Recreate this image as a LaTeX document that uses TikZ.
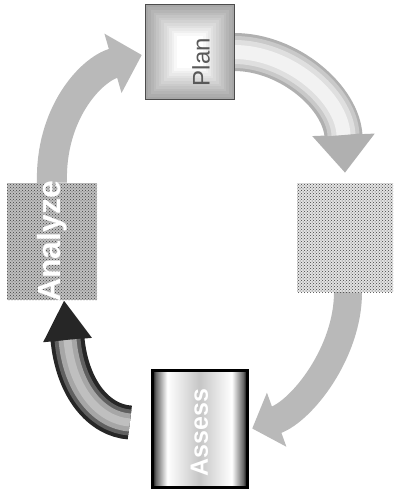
\documentclass[tikz,border=0pt]{standalone}
\usepackage{fontspec}
\usepackage{graphicx}
\setmainfont{Liberation Sans}
\usetikzlibrary{arrows.meta,patterns,shadings}
\pgfdeclarehorizontalshading{assessshade}{100bp}{color(0bp)=(black); color(25bp)=(black); color(27bp)=(black!60); color(33bp)=(white); color(50bp)=(gray!45); color(67bp)=(white); color(73bp)=(black!60); color(75bp)=(black); color(100bp)=(black)}
\tikzset{
  assessbox/.style={rectangle, minimum width=95pt, minimum height=117pt, inner sep=0pt,
    shading=assessshade, draw=black, line width=3pt},
  stipbox/.style={rectangle, inner sep=0pt,
    postaction={pattern=crosshatch dots, pattern color=black!75}},
  boxtext/.style={inner sep=0pt, text=white, font=\bfseries},
  stiparrow/.style={draw=gray!55},
}
\begin{document}
\begin{tikzpicture}[x=1pt,y=-1pt]
\useasboundingbox (0,0) rectangle (398,492);
% box positions (named first, drawn later on top)
\path (190,52) coordinate (planc);
\path (345,237.5) coordinate (rtc);
\path (199.5,428.5) coordinate (assessc);
\path (52,241.5) coordinate (analyzec);
\node[minimum width=88pt, minimum height=94pt, inner sep=0pt] (plan) at (planc) {};
\node[minimum width=96pt, minimum height=109pt, inner sep=0pt] (rt) at (rtc) {};
\node[minimum width=95pt, minimum height=117pt, inner sep=0pt] (assess) at (assessc) {};
\node[minimum width=90pt, minimum height=117pt, inner sep=0pt] (analyze) at (analyzec) {};
% connector end points
\coordinate (a1end) at ([yshift=10pt]rt.north);
\coordinate (a2start) at ([xshift=3pt]rt.south);
\coordinate (a2end) at ([xshift=5pt]assess.east);
\coordinate (a3start) at ([xshift=-22pt,yshift=6pt]assess.west);
\coordinate (a3end) at ([xshift=12pt]analyze.south);
\coordinate (a4end) at ([xshift=-4pt,yshift=-3pt]plan.west);
% Plan -> right box
\draw[line width=38pt, draw=gray!62, -{Triangle[width=60pt,length=38pt]}]
  (plan.east) .. controls +(55,0) and +(-3,-75) .. (a1end);
\draw[line width=32pt, draw=gray!42, shorten >=38pt]
  (plan.east) .. controls +(55,0) and +(-3,-75) .. (a1end);
\draw[line width=24pt, draw=gray!25, shorten >=38pt]
  (plan.east) .. controls +(55,0) and +(-3,-75) .. (a1end);
\draw[line width=14pt, draw=gray!10, shorten >=38pt]
  (plan.east) .. controls +(55,0) and +(-3,-75) .. (a1end);
% right box -> Assess
\draw[stiparrow, line width=28pt, -{Triangle[width=56pt,length=26pt]}]
  (a2start) .. controls +(0,60) and +(50,-18) .. (a2end);
% Assess -> Analyze
\draw[line width=34pt, draw=black!85, -{Triangle[width=46pt,length=40pt]}]
  (a3start) .. controls +(-30,-2) and +(8,90) .. (a3end);
\draw[line width=26pt, draw=gray!75!black, shorten >=40pt]
  (a3start) .. controls +(-30,-2) and +(8,90) .. (a3end);
\draw[line width=18pt, draw=gray!70, shorten >=40pt]
  (a3start) .. controls +(-30,-2) and +(8,90) .. (a3end);
\draw[line width=8pt, draw=gray!50, shorten >=40pt]
  (a3start) .. controls +(-30,-2) and +(8,90) .. (a3end);
% Analyze -> Plan
\draw[stiparrow, line width=30pt, -{Triangle[width=60pt,length=30pt]}]
  (analyze.north) .. controls +(-2,-68) and +(-52,15) .. (a4end);
% Plan box: stepped gradient, grey edges to white centre
\foreach \i [evaluate=\i as \g using {70-\i*70/12}] in {0,...,12}
  \fill[gray!\g] ([shift={(\i*2.6,\i*2.6)}]plan.north west) rectangle ([shift={(-\i*2.6,-\i*2.6)}]plan.south east);
\draw[gray!60!black, line width=0.8pt] (plan.north west) rectangle (plan.south east);
% other boxes
\node[stipbox, fill=gray!22, minimum width=96pt, minimum height=109pt] at (rtc) {};
\node[assessbox] at (assessc) {};
\node[stipbox, fill=gray!50, minimum width=90pt, minimum height=117pt] at (analyzec) {};
% texts
\node[inner sep=0pt, text=black!65, font=\fontsize{24}{28}\selectfont] at ([xshift=11pt,yshift=-10pt]planc) {\rotatebox{90}{Plan}};
\node[boxtext, font=\bfseries\fontsize{25}{30}\selectfont] at ([yshift=-4pt]assessc) {\rotatebox{90}{Assess}};
\node[boxtext, font=\bfseries\fontsize{32}{36}\selectfont] at (analyzec) {\rotatebox{90}{Analyze}};
\end{tikzpicture}
\end{document}
